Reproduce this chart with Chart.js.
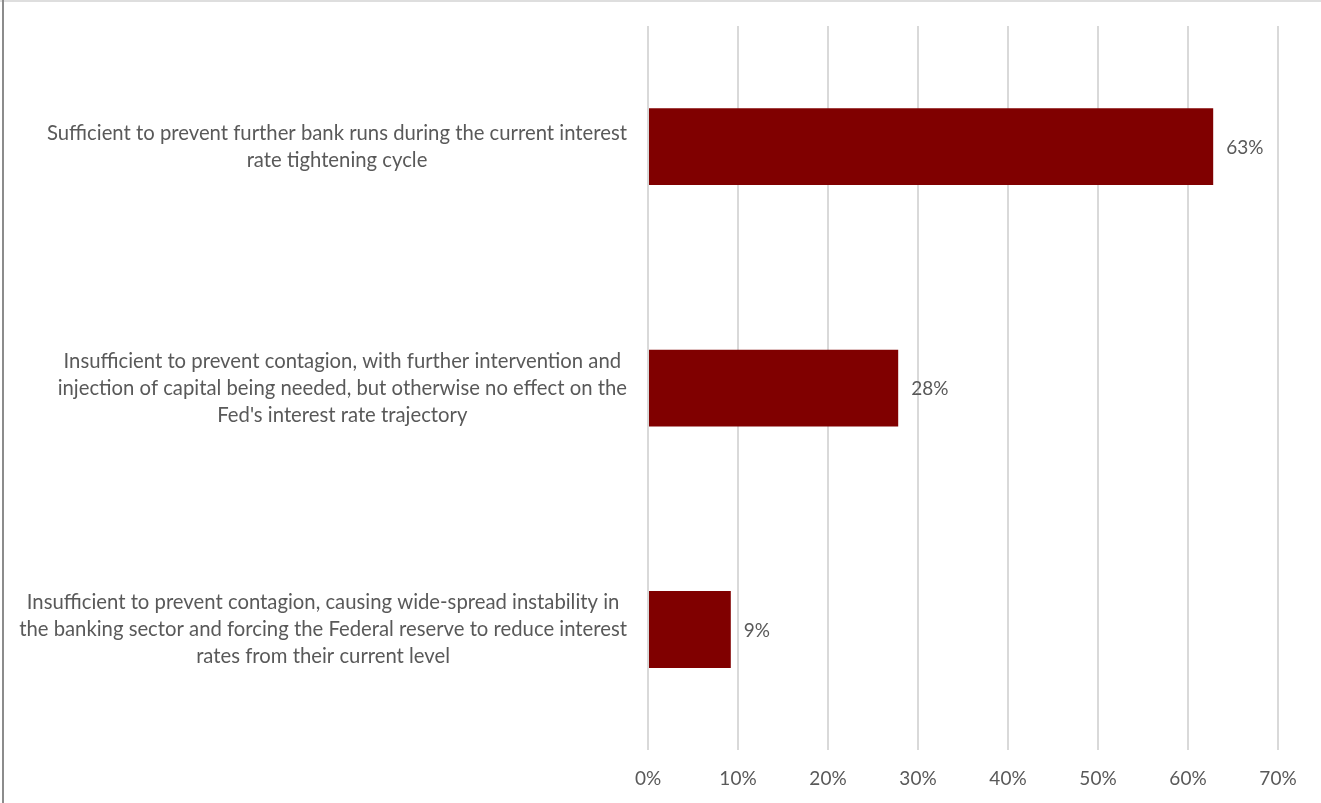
<!DOCTYPE html>
<html lang="en">
<head>
    <meta charset="UTF-8">
    <title>Bank runs survey</title>
    <script src="https://cdn.jsdelivr.net/npm/chart.js"></script>
    <style>
        html, body { margin: 0; padding: 0; background: #fff; }
        .moldura { position: relative; width: 1321px; height: 803px; overflow: hidden; }
        .moldura .topo { position: absolute; left: 0; top: 0; width: 1321px; height: 2px; background: #dedede; }
        .moldura .esquerda { position: absolute; left: 2px; top: 0; width: 2px; height: 803px; background: #8c8c8c; }
        canvas { display: block; }
    </style>
</head>
<body>
<div class="moldura">
    <canvas id="grafico" width="1321" height="803"></canvas>
    <div class="topo"></div>
    <div class="esquerda"></div>
</div>
<script>
    // categorias (uma linha de texto por item)
    const categorias = [
        ['Sufficient to prevent further bank runs during the current interest',
         'rate tightening cycle'],
        ['Insufficient to prevent contagion, with further intervention and',
         'injection of capital being needed, but otherwise no effect on the',
         "Fed's interest rate trajectory"],
        ['Insufficient to prevent contagion, causing wide-spread instability in',
         'the banking sector and forcing the Federal reserve to reduce interest',
         'rates from their current level']
    ];
    // valores em %
    const valores = [62.8, 27.8, 9.2];
    // marcas do eixo x
    const marcasX = [0, 10, 20, 30, 40, 50, 60, 70];

    const corTexto = '#595959';
    const fonte = 'Lato, "Open Sans", sans-serif';

    // desenha os rótulos das categorias e os valores das barras
    const rotulos = {
        id: 'rotulos',
        afterDraw(chart) {
            const ctx = chart.ctx;
            const eixoY = chart.scales.y;
            const meta = chart.getDatasetMeta(0);
            const direita = chart.chartArea.left - 21;
            ctx.save();
            ctx.fillStyle = corTexto;
            ctx.textBaseline = 'middle';
            categorias.forEach((linhas, i) => {
                ctx.font = '20.3px ' + fonte;
                ctx.textAlign = 'center';
                const centro = eixoY.getPixelForTick(i);
                const largura = Math.max(...linhas.map(l => ctx.measureText(l).width));
                const cx = direita - largura / 2;
                linhas.forEach((l, k) => {
                    ctx.fillText(l, cx, centro + (k - (linhas.length - 1) / 2) * 27);
                });
                const barra = meta.data[i];
                ctx.font = '19px ' + fonte;
                ctx.textAlign = 'left';
                ctx.fillText(Math.round(valores[i]) + '%', barra.x + 13, barra.y + 1);
            });
            ctx.restore();
        }
    };

    new Chart(document.getElementById('grafico'), {
        type: 'bar',
        data: {
            labels: categorias,
            datasets: [{
                data: valores,
                backgroundColor: '#800000',
                borderWidth: 0,
                barPercentage: 0.318,
                categoryPercentage: 1
            }]
        },
        options: {
            indexAxis: 'y',
            responsive: false,
            animation: false,
            devicePixelRatio: 1,
            layout: { padding: { left: 648, right: 43, top: 26, bottom: -4 } },
            plugins: {
                legend: { display: false },
                tooltip: { enabled: false }
            },
            scales: {
                x: {
                    min: 0,
                    max: 70,
                    afterBuildTicks: (eixo) => { eixo.ticks = marcasX.map(v => ({ value: v })); },
                    grid: { color: '#d9d9d9', lineWidth: 2, drawTicks: false },
                    border: { display: false },
                    ticks: {
                        padding: 17,
                        color: corTexto,
                        font: { family: fonte, size: 19 },
                        callback: (v) => v + '%'
                    }
                },
                y: { display: false }
            }
        },
        plugins: [rotulos]
    });
</script>
</body>
</html>
